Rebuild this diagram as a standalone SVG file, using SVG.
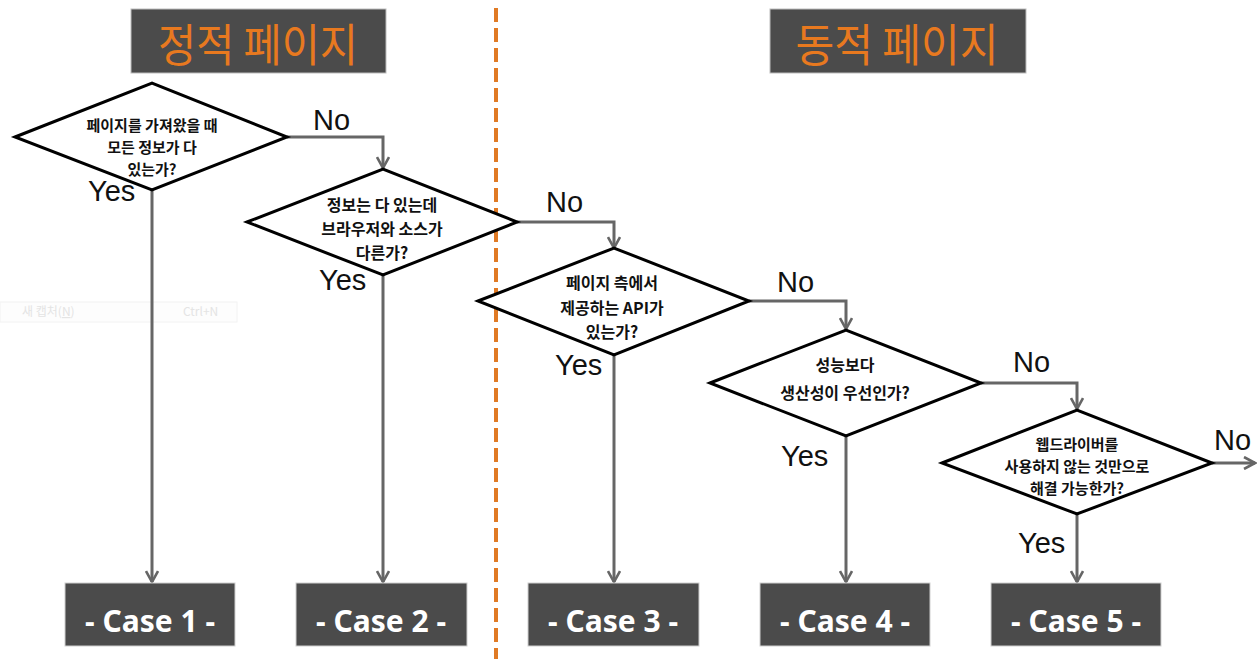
<svg xmlns="http://www.w3.org/2000/svg" width="1257" height="659" viewBox="0 0 1257 659">
<style>
.hdr{fill:#4b4b4b;stroke:#bdbdbd;stroke-width:1}
.hdrt{font-family:"Noto Sans CJK KR","Noto Sans",sans-serif;font-size:45px;fill:#e8791f;text-anchor:middle;dominant-baseline:central}
.dia{fill:#fff;stroke:#000;stroke-width:3;stroke-linejoin:miter}
.dt{font-family:"Noto Sans CJK KR","Noto Sans",sans-serif;font-size:16px;font-weight:700;fill:#111;text-anchor:middle;dominant-baseline:central}
.dt15{font-size:15px}
.case{fill:#4b4b4b;stroke:#cfcfcf;stroke-width:1}
.ct{font-family:"Noto Sans","Open Sans",sans-serif;font-size:30px;font-weight:700;fill:#fff;text-anchor:middle;dominant-baseline:central}
.lbl{font-family:"Liberation Sans",Arial,sans-serif;font-size:29px;fill:#111}
.con{fill:none;stroke:#666;stroke-width:3}
.ghost{font-family:"Noto Sans CJK KR","Noto Sans",sans-serif;font-size:12px;fill:#e4e4e4}
</style>
<defs>
<marker id="arr" viewBox="0 0 14 14" refX="12" refY="7" markerWidth="14" markerHeight="14" markerUnits="userSpaceOnUse" orient="auto">
<polyline points="1,1 12,7 1,13" fill="none" stroke="#666" stroke-width="2.6"/>
</marker>
</defs>
<rect width="1257" height="659" fill="#fff"/>

<g id="ghost-menu">
<rect x="0" y="302" width="237" height="20" fill="#fdfdfd" stroke="#f2f2f2" stroke-width="1"/>
<text class="ghost" x="22" y="316">새 캡처(<tspan text-decoration="underline">N</tspan>)</text>
<text class="ghost" x="183" y="316">Ctrl+N</text>
</g>

<g id="divider">
<line x1="496" y1="8" x2="496" y2="659" stroke="#e07a24" stroke-width="4" stroke-dasharray="14,6"/>
</g>

<g id="header-static">
<rect class="hdr" x="131" y="9" width="255" height="64"/>
<text class="hdrt" x="258" y="42" textLength="200" lengthAdjust="spacingAndGlyphs">정적 페이지</text>
</g>
<g id="header-dynamic">
<rect class="hdr" x="770" y="9" width="256" height="64"/>
<text class="hdrt" x="897" y="42" textLength="203" lengthAdjust="spacingAndGlyphs">동적 페이지</text>
</g>

<g id="connectors">
<polyline class="con" points="287,137 383,137 383,168" marker-end="url(#arr)"/>
<polyline class="con" points="152,190 152,582" marker-end="url(#arr)"/>
<polyline class="con" points="517,222 614,222 614,248" marker-end="url(#arr)"/>
<polyline class="con" points="383,275 383,582" marker-end="url(#arr)"/>
<polyline class="con" points="749,301 846,301 846,329" marker-end="url(#arr)"/>
<polyline class="con" points="614,355 614,582" marker-end="url(#arr)"/>
<polyline class="con" points="981,383 1077,383 1077,409" marker-end="url(#arr)"/>
<polyline class="con" points="846,436 846,582" marker-end="url(#arr)"/>
<polyline class="con" points="1212,463 1255,463" marker-end="url(#arr)"/>
<polyline class="con" points="1077,514 1077,582" marker-end="url(#arr)"/>
<text class="lbl" x="313" y="130">No</text>
<text class="lbl" x="88" y="201">Yes</text>
<text class="lbl" x="546" y="212">No</text>
<text class="lbl" x="319" y="290">Yes</text>
<text class="lbl" x="777" y="292">No</text>
<text class="lbl" x="555" y="375">Yes</text>
<text class="lbl" x="1013" y="372">No</text>
<text class="lbl" x="781" y="466">Yes</text>
<text class="lbl" x="1214" y="450">No</text>
<text class="lbl" x="1018" y="553">Yes</text>
</g>

<g id="q1">
<polygon class="dia" points="15,137 152,83 287,137 152,190"/>
<text class="dt dt15" x="152" y="124">페이지를 가져왔을 때</text>
<text class="dt dt15" x="152" y="146">모든 정보가 다</text>
<text class="dt dt15" x="152" y="168">있는가?</text>
</g>
<g id="q2">
<polygon class="dia" points="247,222 383,169 517,222 383,275"/>
<text class="dt" x="382" y="204">정보는 다 있는데</text>
<text class="dt" x="382" y="228">브라우저와 소스가</text>
<text class="dt" x="382" y="252">다른가?</text>
</g>
<g id="q3">
<polygon class="dia" points="478,301 614,248 749,301 614,355"/>
<text class="dt" x="612" y="282">페이지 측에서</text>
<text class="dt" x="612" y="307">제공하는 API가</text>
<text class="dt" x="612" y="331">있는가?</text>
</g>
<g id="q4">
<polygon class="dia" points="710,383 846,330 981,383 846,436"/>
<text class="dt" x="845" y="364">성능보다</text>
<text class="dt" x="845" y="392">생산성이 우선인가?</text>
</g>
<g id="q5">
<polygon class="dia" points="942,463 1077,410 1212,463 1077,514"/>
<text class="dt dt15" x="1077" y="443">웹드라이버를</text>
<text class="dt dt15" x="1077" y="465">사용하지 않는 것만으로</text>
<text class="dt dt15" x="1077" y="487">해결 가능한가?</text>
</g>

<g id="case1"><rect class="case" x="65" y="583" width="170" height="63"/><text class="ct" x="150" y="620">- Case 1 -</text></g>
<g id="case2"><rect class="case" x="296" y="583" width="171" height="63"/><text class="ct" x="381" y="620">- Case 2 -</text></g>
<g id="case3"><rect class="case" x="528" y="583" width="171" height="63"/><text class="ct" x="613" y="620">- Case 3 -</text></g>
<g id="case4"><rect class="case" x="760" y="583" width="170" height="63"/><text class="ct" x="845" y="620">- Case 4 -</text></g>
<g id="case5"><rect class="case" x="991" y="583" width="170" height="63"/><text class="ct" x="1076" y="620">- Case 5 -</text></g>
</svg>
